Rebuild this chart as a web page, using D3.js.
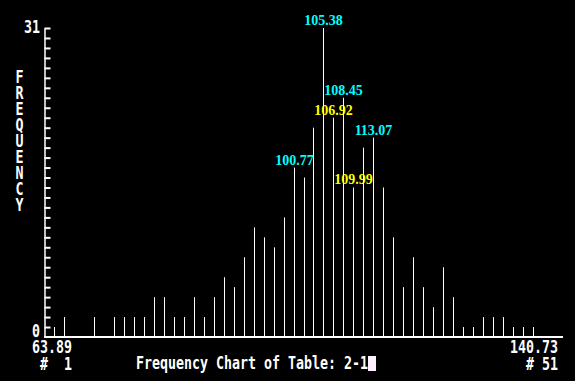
<!DOCTYPE html>
<html lang="en">
<head>
    <meta charset="UTF-8">
    <style>
        body { margin: 0; background: #000; }
        svg { display: block; background: #000; }
        .mono { font-family: "DejaVu Sans Mono", monospace; font-weight: bold; font-size: 13.3px; fill: #fff; }
        .vert { writing-mode: vertical-rl; text-orientation: upright; }
        .peak { font-family: "Liberation Serif", serif; font-weight: bold; font-size: 14px; text-anchor: middle; }
    </style>
    <script src="https://d3js.org/d3.v7.min.js"></script>
    <title>Frequency Chart of Table: 2-1</title>
</head>
<body>
    <svg width="575" height="381"></svg>

    <script>

        // frequency of each of the 51 bins
        var freq = [1, 2, 0, 0, 2, 0, 2, 2, 2, 2,
                    4, 4, 2, 2, 4, 2, 4, 6, 5, 8,
                    11, 10, 9, 12, 17, 16, 21, 31, 22, 24,
                    15, 19, 20, 15, 10, 5, 8, 5, 3, 7,
                    4, 1, 1, 2, 2, 2, 1, 1, 1, 0, 0];

        // labelled peaks
        var peakBins = [25, 28, 29, 30, 31, 33];
        var peakLabels = ["100.77", "105.38", "106.92", "108.45", "109.99", "113.07"];
        var peakGroup = ["a", "a", "b", "a", "b", "a"];

        // axis texts
        var xEndLabels = ["63.89", "140.73"];
        var binLabels = ["#  1", "# 51"];
        var yEndLabels = ["0", "31"];
        var yTitle = "FREQUENCY";
        var title = "Frequency Chart of Table: 2-1";

        var svg = d3.select("svg");
        var stretch = 1.34;   // tall console font

        var bins = d3.range(1, freq.length + 1);
        var x = d3.scaleLinear().domain([1, freq.length]).range([54, 553]);
        var y = d3.scaleLinear().domain([0, 31]).range([337, 28]);
        var color = d3.scaleOrdinal().domain(["a", "b"]).range(["#00ffff", "#ffff00"]);

        // console-style text
        function monoText(str, tx, ty, anchor) {
            return svg.append("g")
               .attr("transform", "translate(" + tx + "," + ty + ") scale(1," + stretch + ")")
               .append("text")
               .attr("class", "mono")
               .attr("text-anchor", anchor || "start")
               .attr("xml:space", "preserve")
               .text(str);
        }

        // peak labels (drawn under the bars)
        svg.selectAll(".peak")
           .data(peakBins)
           .enter().append("text")
           .attr("class", "peak")
           .attr("x", function(d) { return Math.round(x(d)) + 0.5; })
           .attr("y", function(d) { return y(freq[d - 1]) - 3; })
           .attr("fill", function(d, i) { return color(peakGroup[i]); })
           .text(function(d, i) { return peakLabels[i]; });

        // bars
        svg.selectAll(".bar")
           .data(bins.filter(function(d) { return freq[d - 1] > 0; }))
           .enter().append("line")
           .attr("class", "bar")
           .attr("x1", function(d) { return Math.round(x(d)) + 0.5; })
           .attr("x2", function(d) { return Math.round(x(d)) + 0.5; })
           .attr("y1", y(0))
           .attr("y2", function(d) { return y(freq[d - 1]); })
           .attr("stroke", "#fff")
           .attr("stroke-width", 1);

        // y axis with inward ticks
        var yAxis = d3.axisRight(y)
                      .tickValues(d3.range(1, 32))
                      .tickSize(6)
                      .tickSizeOuter(0)
                      .tickFormat("");
        var gy = svg.append("g")
                    .attr("transform", "translate(44.5,0)")
                    .call(yAxis);
        gy.select(".domain").attr("stroke", "#fff").attr("stroke-width", 1.5);
        gy.selectAll(".tick line").attr("stroke", "#fff").attr("stroke-width", 2);

        // x axis baseline
        svg.append("line")
           .attr("x1", 44)
           .attr("x2", x.range()[1] + 10)
           .attr("y1", y(0))
           .attr("y2", y(0))
           .attr("stroke", "#fff")
           .attr("stroke-width", 2);

        // y end labels
        monoText(yEndLabels[0], 40, 337, "end");
        monoText(yEndLabels[1], 40, 33, "end");

        // vertical title, letters stacked 16px apart
        var vt = monoText(yTitle, 19.5, 65.5).attr("class", "mono vert");
        var adv = vt.node().getComputedTextLength();
        vt.style("letter-spacing", ((yTitle.length * 16 / stretch) - adv) / yTitle.length + "px");

        // x end labels with bin numbers below
        monoText(xEndLabels[0], 32, 353);
        monoText(binLabels[0], 40, 370);
        monoText(xEndLabels[1], 558, 353, "end");
        monoText(binLabels[1], 558, 370, "end");

        // title with cursor block
        monoText(title, 136, 369);
        svg.append("rect")
           .attr("x", 368)
           .attr("y", 356)
           .attr("width", 8)
           .attr("height", 15)
           .attr("fill", "#fff0ff");

    </script>
</body>
</html>
